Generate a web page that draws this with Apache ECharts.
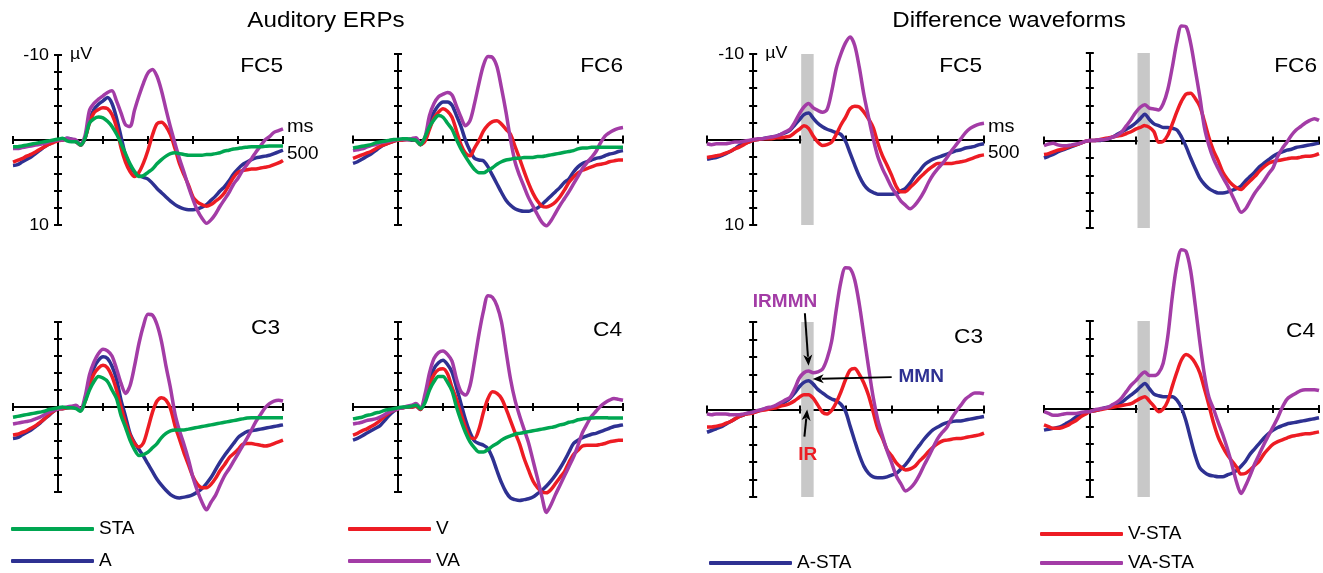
<!DOCTYPE html>
<html>
<head>
<meta charset="utf-8">
<script src="https://cdn.jsdelivr.net/npm/echarts@6/dist/echarts.min.js"></script>
<style>
  html, body { margin: 0; padding: 0; background: #ffffff; }
  #chart { width: 1323px; height: 573px; }
</style>
</head>
<body>
<div id="chart"></div>
<script>
// time axis (ms), one sample every 10 ms
const times = [-100, -90, -80, -70, -60, -50, -40, -30, -20, -10,
  0, 10, 20, 30, 40, 50, 60, 70, 80, 90,
  100, 110, 120, 130, 140, 150, 160, 170, 180, 190,
  200, 210, 220, 230, 240, 250, 260, 270, 280, 290,
  300, 310, 320, 330, 340, 350, 360, 370, 380, 390,
  400, 410, 420, 430, 440, 450, 460, 470, 480, 490,
  500];

// Auditory ERPs (uV), FC5
const audFC5_STA = [0.8, 0.8, 0.7, 0.6, 0.5, 0.4, 0.3, 0.2, 0.1, 0.0,
  -0.1, -0.2, 0.1, 0.2, 0.2, 0.6, -0.2, -2.0, -2.5, -2.7,
  -2.6, -2.2, -1.6, -0.7, 0.4, 1.6, 2.8, 3.7, 4.3, 4.2,
  3.8, 3.4, 2.8, 2.3, 1.9, 1.6, 1.5, 1.6, 1.7, 1.8,
  1.8, 1.8, 1.8, 1.7, 1.7, 1.6, 1.5, 1.3, 1.2, 1.05,
  1.0, 0.9, 0.85, 0.8, 0.8, 0.8, 0.75, 0.7, 0.7, 0.7,
  0.7];
const audFC5_A = [3.0, 2.9, 2.6, 2.3, 2.0, 1.6, 1.2, 0.8, 0.5, 0.2,
  0.0, 0.0, -0.2, -0.1, 0.2, 0.6, -0.2, -2.3, -3.6, -4.2,
  -4.6, -5.0, -4.3, -2.6, -0.4, 1.8, 3.0, 3.8, 4.2, 4.4,
  4.6, 5.1, 5.7, 6.2, 6.7, 7.2, 7.6, 7.9, 8.1, 8.2,
  8.2, 8.1, 7.9, 7.6, 7.1, 6.6, 6.0, 5.5, 4.8, 4.0,
  3.4, 2.9, 2.6, 2.3, 2.1, 2.0, 1.9, 1.8, 1.6, 1.4,
  1.2];
const audFC5_V = [2.6, 2.4, 2.2, 1.9, 1.7, 1.4, 1.1, 0.8, 0.5, 0.3,
  0.1, 0.0, -0.1, 0.0, 0.2, 0.6, -0.2, -2.0, -3.2, -3.6,
  -3.8, -3.7, -3.0, -1.5, 0.9, 2.6, 3.7, 4.3, 3.8, 2.7,
  1.2, -0.6, -1.9, -2.1, -1.6, -0.6, 1.0, 2.8, 4.1, 5.3,
  6.7, 7.3, 7.6, 7.8, 7.6, 7.2, 6.8, 6.2, 5.3, 4.4,
  3.8, 3.6, 3.5, 3.4, 3.4, 3.3, 3.2, 3.1, 2.9, 2.7,
  2.4];
const audFC5_VA = [1.0, 1.0, 0.9, 0.8, 0.7, 0.6, 0.5, 0.4, 0.2, 0.1,
  0.0, 0.0, -0.2, -0.1, 0.0, 0.5, -0.5, -3.5, -4.3, -4.8,
  -5.2, -5.6, -5.8, -4.6, -3.2, -1.8, -1.6, -3.5, -5.2, -6.7,
  -7.9, -8.3, -7.5, -5.8, -3.6, -1.5, 0.4, 2.2, 3.8, 5.5,
  7.0, 8.3, 9.2, 9.8, 9.4, 8.7, 7.8, 7.0, 6.2, 5.2,
  4.5, 3.6, 2.9, 2.2, 1.4, 0.7, 0.0, -0.4, -0.9, -1.1,
  -1.3];

// Auditory ERPs, FC6
const audFC6_STA = [1.0, 0.9, 0.8, 0.7, 0.6, 0.4, 0.3, 0.2, 0.1, 0.0,
  0.0, -0.1, -0.1, 0.0, 0.1, 0.6, -0.3, -1.5, -2.3, -2.8,
  -2.6, -1.9, -1.2, 0.0, 1.1, 2.0, 2.8, 3.5, 3.9, 3.9,
  3.6, 3.3, 2.9, 2.6, 2.4, 2.3, 2.2, 2.2, 2.1, 2.1,
  2.1, 2.0, 2.0, 1.9, 1.8, 1.7, 1.6, 1.5, 1.4, 1.3,
  1.1, 1.0, 1.0, 0.9, 0.9, 0.9, 0.9, 0.9, 0.9, 0.9,
  0.9];
const audFC6_A = [2.8, 2.6, 2.3, 2.0, 1.7, 1.3, 0.9, 0.6, 0.4, 0.2,
  0.0, 0.0, 0.0, 0.1, 0.1, 0.6, 0.0, -2.0, -3.2, -4.0,
  -4.4, -4.4, -4.0, -2.8, -1.5, 0.1, 1.3, 2.2, 2.4, 2.5,
  3.2, 4.2, 5.2, 6.2, 7.1, 7.7, 8.1, 8.3, 8.4, 8.4,
  8.2, 8.0, 7.6, 7.1, 6.6, 6.1, 5.6, 5.0, 4.6, 3.8,
  3.2, 2.8, 2.6, 2.4, 2.2, 2.1, 1.9, 1.7, 1.6, 1.4,
  1.3];
const audFC6_V = [2.2, 2.0, 1.8, 1.6, 1.4, 1.1, 0.8, 0.6, 0.4, 0.2,
  0.1, 0.1, 0.0, 0.0, 0.1, 0.6, 0.2, -1.2, -2.5, -3.2,
  -3.6, -3.3, -2.6, -1.0, 0.6, 1.6, 1.9, 1.0, 0.1, -1.0,
  -1.7, -2.1, -2.2, -1.8, -1.2, -0.6, 0.8, 2.2, 3.7, 5.1,
  6.3, 7.2, 7.8, 7.9, 7.7, 7.3, 6.7, 5.9, 5.0, 4.4,
  3.9, 3.6, 3.4, 3.2, 3.0, 2.9, 2.8, 2.6, 2.5, 2.4,
  2.4];
const audFC6_VA = [1.3, 1.2, 1.1, 0.9, 0.7, 0.6, 0.4, 0.3, 0.2, 0.1,
  0.0, 0.0, 0.0, -0.1, -0.2, 0.5, -0.3, -2.8, -4.2, -5.0,
  -5.3, -5.5, -5.2, -3.9, -2.6, -1.6, -2.2, -4.2, -6.6, -8.7,
  -9.7, -9.6, -8.5, -6.0, -3.2, 0.0, 2.6, 4.2, 5.5, 6.8,
  7.8, 8.8, 9.7, 10.1, 9.5, 8.6, 7.7, 6.9, 6.1, 5.2,
  4.3, 3.4, 2.7, 2.1, 1.4, 0.4, -0.4, -0.8, -1.1, -1.3,
  -1.4];

// Auditory ERPs, C3
const audC3_STA = [1.2, 1.1, 1.0, 0.9, 0.8, 0.7, 0.6, 0.5, 0.3, 0.2,
  0.1, 0.0, 0.1, 0.1, 0.2, 0.5, -0.6, -2.0, -3.0, -3.6,
  -3.4, -3.0, -2.0, -1.0, 1.0, 2.4, 3.9, 5.0, 5.7, 5.6,
  5.3, 4.8, 4.3, 3.6, 3.1, 2.8, 2.7, 2.7, 2.7, 2.6,
  2.5, 2.4, 2.3, 2.2, 2.1, 2.0, 1.9, 1.8, 1.7, 1.6,
  1.5, 1.4, 1.3, 1.25, 1.25, 1.25, 1.25, 1.25, 1.25, 1.25,
  1.25];
const audC3_A = [3.7, 3.6, 3.3, 3.0, 2.7, 2.3, 1.9, 1.4, 1.0, 0.5,
  0.2, 0.2, 0.1, 0.0, 0.1, 0.4, -0.8, -3.0, -4.6, -5.5,
  -5.9, -5.7, -4.8, -3.3, -0.8, 1.1, 3.1, 4.2, 5.0, 5.8,
  6.7, 7.6, 8.5, 9.2, 9.8, 10.3, 10.6, 10.7, 10.6, 10.5,
  10.3, 10.0, 9.6, 9.0, 8.3, 7.4, 6.5, 5.7, 5.0, 4.3,
  3.6, 3.2, 2.9, 2.8, 2.7, 2.6, 2.5, 2.4, 2.3, 2.2,
  2.1];
const audC3_V = [3.3, 3.2, 3.0, 2.8, 2.5, 2.2, 1.8, 1.4, 0.9, 0.5,
  0.2, 0.2, 0.1, 0.1, 0.1, 0.4, -0.6, -2.6, -3.9, -4.6,
  -4.9, -4.6, -3.6, -2.0, 0.0, 1.8, 3.3, 4.3, 4.7, 4.2,
  2.5, 0.6, -0.7, -1.1, -0.8, 0.2, 2.2, 3.8, 5.4, 6.8,
  8.2, 9.1, 9.5, 9.5, 9.1, 8.4, 7.5, 6.8, 6.0, 5.5,
  5.0, 4.4, 4.3, 4.3, 4.4, 4.5, 4.6, 4.5, 4.3, 4.1,
  3.9];
const audC3_VA = [2.0, 1.9, 1.8, 1.7, 1.6, 1.4, 1.2, 0.9, 0.6, 0.4,
  0.2, 0.1, 0.0, -0.1, -0.2, 0.3, -1.2, -3.8, -5.3, -6.3,
  -6.8, -6.6, -6.0, -4.5, -2.8, -1.6, -2.5, -4.8, -7.5, -9.6,
  -10.9, -10.8, -9.7, -7.7, -4.8, -2.2, 0.8, 2.8, 4.4, 6.2,
  8.3, 9.9, 11.2, 12.1, 11.2, 10.4, 9.2, 8.1, 7.3, 6.4,
  5.5, 4.6, 3.7, 2.7, 1.7, 0.9, 0.1, -0.4, -0.7, -0.8,
  -0.7];

// Auditory ERPs, C4
const audC4_STA = [1.4, 1.3, 1.2, 1.0, 0.9, 0.7, 0.6, 0.4, 0.3, 0.2,
  0.1, 0.0, 0.0, -0.1, -0.2, 0.2, -0.5, -2.0, -3.0, -3.6,
  -3.6, -2.9, -1.9, 0.0, 1.6, 3.0, 4.1, 4.8, 5.3, 5.3,
  5.0, 4.6, 4.3, 3.9, 3.6, 3.4, 3.2, 3.1, 3.0, 2.9,
  2.8, 2.7, 2.6, 2.5, 2.4, 2.3, 2.1, 2.0, 1.8, 1.7,
  1.5, 1.4, 1.35, 1.3, 1.25, 1.25, 1.25, 1.3, 1.3, 1.3,
  1.3];
const audC4_A = [3.9, 3.7, 3.4, 3.1, 2.8, 2.5, 2.2, 1.6, 1.0, 0.5,
  0.2, 0.1, 0.0, 0.0, -0.1, 0.3, -1.0, -3.0, -4.5, -5.2,
  -5.5, -5.0, -4.1, -2.3, -0.4, 1.5, 3.0, 4.0, 4.3, 4.5,
  4.9, 6.0, 7.5, 8.9, 10.0, 10.7, 10.9, 11.0, 10.9, 10.8,
  10.6, 10.2, 9.8, 9.3, 8.7, 8.0, 7.2, 6.3, 5.3, 4.3,
  3.9, 3.6, 3.4, 3.2, 3.1, 2.9, 2.7, 2.5, 2.3, 2.2,
  2.1];
const audC4_V = [3.3, 3.1, 2.8, 2.6, 2.3, 2.0, 1.6, 1.1, 0.7, 0.4,
  0.2, 0.1, 0.0, 0.0, -0.1, 0.3, -0.8, -2.6, -3.8, -4.4,
  -4.5, -3.9, -2.3, -0.9, 0.8, 2.4, 3.6, 3.7, 2.6, 0.6,
  -1.0, -1.8, -1.6, -1.0, 0.2, 1.6, 3.0, 4.3, 6.0, 7.4,
  8.7, 9.5, 10.0, 10.1, 9.7, 9.0, 8.3, 7.6, 6.5, 5.6,
  5.1, 4.6, 4.5, 4.5, 4.5, 4.4, 4.3, 4.1, 4.0, 3.9,
  3.9];
const audC4_VA = [2.0, 1.9, 1.8, 1.6, 1.5, 1.4, 1.2, 0.9, 0.6, 0.4,
  0.2, 0.1, -0.1, -0.2, -0.4, 0.1, -1.5, -4.0, -5.7, -6.4,
  -6.6, -6.2, -5.4, -3.3, -1.8, -1.4, -2.5, -5.4, -8.6, -11.3,
  -13.1, -12.9, -11.9, -10.0, -6.6, -3.3, -0.8, 1.0, 2.6, 4.2,
  6.3, 8.4, 10.6, 12.4, 11.5, 10.3, 9.2, 8.1, 7.0, 5.9,
  4.5, 3.0, 2.0, 1.1, 0.5, -0.1, -0.5, -0.8, -1.0, -0.9,
  -0.8];

// Difference waveforms, FC5
const diffFC5_A = [2.3, 2.2, 2.1, 1.9, 1.7, 1.4, 1.1, 0.7, 0.5, 0.3,
  0.1, 0.0, -0.1, -0.2, -0.3, -0.4, -0.6, -0.8, -1.1, -1.7,
  -2.3, -2.9, -3.1, -2.5, -1.9, -1.5, -1.2, -1.0, -0.8, -0.6,
  0.2, 1.6, 3.0, 4.3, 5.3, 5.9, 6.2, 6.4, 6.4, 6.4,
  6.4, 6.3, 6.0, 5.7, 5.1, 4.3, 3.7, 3.0, 2.6, 2.3,
  2.1, 1.9, 1.7, 1.5, 1.3, 1.2, 1.0, 0.9, 0.8, 0.6,
  0.5];
const diffFC5_V = [2.1, 2.0, 1.9, 1.8, 1.6, 1.4, 1.1, 0.9, 0.6, 0.3,
  0.1, 0.0, -0.1, -0.1, -0.1, -0.2, -0.2, -0.3, -0.4, -0.8,
  -1.2, -1.6, -1.3, -0.4, 0.3, 0.7, 0.6, 0.3, -0.6, -1.7,
  -2.6, -3.6, -3.9, -3.8, -3.2, -2.4, -1.4, 0.4, 1.9, 3.0,
  4.2, 5.5, 6.1, 6.1, 5.6, 5.1, 4.5, 4.0, 3.5, 3.1,
  2.8, 2.8, 2.8, 2.8, 2.7, 2.6, 2.5, 2.3, 2.1, 1.9,
  1.8];
const diffFC5_VA = [0.5, 0.6, 0.5, 0.5, 0.5, 0.4, 0.3, 0.3, 0.2, 0.1,
  0.0, -0.1, -0.1, -0.2, -0.3, -0.4, -0.6, -0.9, -1.2, -2.0,
  -3.0, -3.8, -4.2, -3.7, -3.4, -3.2, -3.5, -5.6, -8.3, -10.0,
  -11.3, -12.0, -11.0, -8.4, -5.2, -2.6, -0.1, 2.0, 3.4, 4.5,
  5.6, 6.4, 7.2, 7.7, 8.1, 7.7, 7.0, 6.1, 5.0, 4.1,
  3.4, 2.8, 2.1, 1.3, 0.6, -0.1, -0.8, -1.3, -1.6, -1.8,
  -1.9];

// Difference waveforms, FC6
const diffFC6_A = [2.0, 1.8, 1.6, 1.3, 1.1, 0.9, 0.7, 0.5, 0.3, 0.1,
  0.0, 0.0, 0.0, -0.1, -0.2, -0.4, -0.7, -1.0, -1.3, -1.6,
  -2.0, -2.5, -3.0, -2.4, -1.9, -1.7, -1.5, -1.5, -1.4, -1.2,
  -0.4, 0.7, 2.0, 3.2, 4.3, 5.0, 5.5, 5.8, 6.0, 6.0,
  5.9, 5.7, 5.5, 5.2, 4.6, 4.1, 3.6, 3.0, 2.6, 2.2,
  1.8, 1.5, 1.3, 1.1, 1.0, 0.8, 0.7, 0.6, 0.5, 0.4,
  0.3];
const diffFC6_V = [1.6, 1.5, 1.3, 1.1, 1.0, 0.8, 0.6, 0.5, 0.3, 0.1,
  0.0, 0.0, -0.1, -0.2, -0.3, -0.4, -0.5, -0.6, -0.8, -1.0,
  -1.3, -1.5, -1.7, -1.5, -1.0, 0.2, 0.1, -0.6, -1.9, -3.3,
  -4.5, -5.3, -5.4, -4.8, -3.9, -2.2, -0.3, 1.2, 2.3, 3.6,
  4.4, 5.0, 5.4, 5.6, 5.1, 4.6, 4.1, 3.5, 3.0, 2.6,
  2.4, 2.3, 2.2, 2.1, 2.0, 2.0, 1.9, 1.8, 1.8, 1.7,
  1.5];
const diffFC6_VA = [0.6, 0.4, 0.3, 0.5, 0.6, 0.6, 0.5, 0.4, 0.3, 0.1,
  0.0, 0.0, -0.1, -0.1, -0.2, -0.4, -0.6, -1.0, -1.7, -2.4,
  -3.2, -3.8, -4.1, -3.7, -3.6, -3.5, -4.2, -5.8, -8.4, -11.3,
  -13.1, -13.0, -11.1, -8.1, -5.0, -1.5, 0.6, 2.1, 3.2, 4.2,
  5.1, 6.2, 7.3, 8.2, 7.8, 6.9, 6.0, 5.3, 4.6, 3.8,
  3.1, 1.8, 0.9, 0.2, -0.6, -1.2, -1.6, -2.0, -2.3, -2.5,
  -2.3];

// Difference waveforms, C3
const diffC3_A = [2.6, 2.4, 2.2, 2.0, 1.7, 1.4, 1.1, 0.8, 0.6, 0.4,
  0.3, 0.2, 0.0, -0.1, -0.2, -0.4, -0.6, -0.9, -1.3, -1.9,
  -2.6, -3.1, -3.3, -2.9, -2.3, -1.9, -1.5, -1.2, -1.0, -0.6,
  0.2, 1.9, 3.6, 5.2, 6.5, 7.3, 7.7, 7.8, 7.8, 7.7,
  7.5, 7.3, 6.8, 6.3, 5.6, 4.8, 4.1, 3.4, 2.8, 2.3,
  2.0, 1.7, 1.5, 1.4, 1.3, 1.3, 1.2, 1.1, 1.0, 0.9,
  0.8];
const diffC3_V = [2.0, 2.0, 1.9, 1.8, 1.6, 1.4, 1.1, 0.8, 0.6, 0.5,
  0.4, 0.2, 0.1, 0.0, -0.1, -0.2, -0.4, -0.5, -0.7, -1.0,
  -1.4, -1.7, -1.7, -1.3, -0.5, 0.3, 0.5, 0.1, -0.8, -2.0,
  -3.4, -4.5, -4.7, -4.0, -3.0, -1.6, 0.3, 2.2, 3.3, 4.6,
  5.3, 6.1, 6.6, 6.9, 6.8, 6.5, 5.9, 5.4, 4.8, 4.3,
  3.9, 3.6, 3.5, 3.4, 3.3, 3.3, 3.2, 3.1, 3.0, 2.9,
  2.7];
const diffC3_VA = [0.5, 0.6, 0.5, 0.5, 0.5, 0.6, 0.6, 0.6, 0.5, 0.4,
  0.3, 0.1, 0.0, -0.2, -0.3, -0.5, -0.8, -1.1, -1.4, -2.4,
  -3.6, -4.2, -4.4, -4.2, -4.3, -4.6, -5.8, -7.8, -11.4, -14.6,
  -16.2, -16.1, -14.8, -12.0, -8.4, -4.8, -1.4, 1.2, 3.0, 4.7,
  6.1, 7.6, 8.5, 9.3, 9.0, 8.4, 7.5, 6.4, 5.4, 4.3,
  3.3, 2.6, 2.0, 1.0, 0.2, -0.5, -1.2, -1.6, -1.9, -1.9,
  -1.8];

// Difference waveforms, C4
const diffC4_A = [2.4, 2.3, 2.2, 2.1, 1.9, 1.6, 1.3, 0.9, 0.6, 0.4,
  0.3, 0.2, 0.1, -0.1, -0.2, -0.3, -0.5, -0.8, -1.2, -1.6,
  -2.0, -2.5, -2.9, -2.3, -1.7, -1.5, -1.4, -1.4, -1.4, -1.0,
  -0.1, 1.4, 3.4, 5.3, 6.7, 7.2, 7.5, 7.6, 7.7, 7.7,
  7.5, 7.3, 7.0, 6.5, 5.9, 5.1, 4.5, 3.9, 3.3, 2.8,
  2.4, 2.1, 1.9, 1.7, 1.6, 1.5, 1.4, 1.3, 1.2, 1.1,
  1.0];
const diffC4_V = [1.8, 2.0, 2.2, 2.2, 2.1, 1.9, 1.6, 1.3, 0.9, 0.6,
  0.3, 0.2, 0.1, 0.0, -0.1, -0.2, -0.3, -0.4, -0.5, -0.6,
  -0.9, -1.2, -1.4, -0.9, -0.3, 0.3, 0.0, -0.9, -2.6, -4.2,
  -5.6, -6.2, -5.9, -5.2, -4.1, -2.3, -0.4, 1.6, 3.2, 4.3,
  5.2, 5.9, 6.6, 7.4, 7.3, 6.9, 6.4, 5.9, 5.1, 4.5,
  4.0, 3.7, 3.5, 3.3, 3.1, 3.0, 2.9, 2.8, 2.8, 2.7,
  2.6];
const diffC4_VA = [0.3, 0.5, 0.7, 0.7, 0.6, 0.5, 0.5, 0.5, 0.4, 0.3,
  0.3, 0.1, 0.0, -0.1, -0.2, -0.5, -0.8, -1.3, -2.0, -2.7,
  -3.2, -3.8, -4.2, -3.8, -3.8, -4.1, -5.2, -8.2, -12.8, -16.4,
  -18.1, -17.9, -15.7, -11.8, -7.6, -3.9, -1.3, 0.0, 1.5, 2.9,
  4.5, 6.3, 8.3, 9.6, 8.7, 7.5, 6.2, 5.1, 4.0, 3.0,
  2.0, 1.0, -0.2, -1.1, -1.5, -1.8, -2.1, -2.2, -2.2, -2.2,
  -2.1];

// shaded analysis window (ms) and its vertical extent (uV)
const bandMs = [104, 131];
const bandUv = [-10.3, 10.1];

// arrows in the C3 difference panel: [from, to] as [ms, uV]
const arrowIRMMN = [[112, -11.0], [120, -5.0]];
const arrowMMN = [[300, -3.7], [129, -3.5]];
const arrowIR = [[111, 3.1], [117, 0.0]];

const FONT = '"Liberation Sans", Arial, Helvetica, sans-serif';
const COLORS = {
  STA: '#00a651', A: '#2e3192', V: '#ed1c24', VA: '#a33ca6',
  'A-STA': '#2e3192', 'V-STA': '#ed1c24', 'VA-STA': '#a33ca6'
};

const panels = [
  { box: [13, 55, 270, 170], label: 'FC5', labelAt: [283, 66], scale: true, band: false,
    lines: [['A', audFC5_A], ['V', audFC5_V], ['VA', audFC5_VA], ['STA', audFC5_STA]] },
  { box: [353, 54, 270, 171], label: 'FC6', labelAt: [623, 66], scale: false, band: false,
    lines: [['A', audFC6_A], ['V', audFC6_V], ['VA', audFC6_VA], ['STA', audFC6_STA]] },
  { box: [707, 54, 277, 171], label: 'FC5', labelAt: [982, 66], scale: true, band: true,
    lines: [['A-STA', diffFC5_A], ['V-STA', diffFC5_V], ['VA-STA', diffFC5_VA]] },
  { box: [1044, 53, 275, 175], label: 'FC6', labelAt: [1317, 66], scale: false, band: true,
    lines: [['A-STA', diffFC6_A], ['V-STA', diffFC6_V], ['VA-STA', diffFC6_VA]] },
  { box: [13, 322, 270, 170], label: 'C3', labelAt: [280, 328], scale: false, band: false,
    lines: [['A', audC3_A], ['V', audC3_V], ['VA', audC3_VA], ['STA', audC3_STA]] },
  { box: [353, 322, 270, 170], label: 'C4', labelAt: [622, 330], scale: false, band: false,
    lines: [['A', audC4_A], ['V', audC4_V], ['VA', audC4_VA], ['STA', audC4_STA]] },
  { box: [707, 322, 277, 175], label: 'C3', labelAt: [983, 337], scale: false, band: true,
    lines: [['A-STA', diffC3_A], ['V-STA', diffC3_V], ['VA-STA', diffC3_VA]] },
  { box: [1044, 321, 275, 176], label: 'C4', labelAt: [1315, 331], scale: false, band: true,
    lines: [['A-STA', diffC4_A], ['V-STA', diffC4_V], ['VA-STA', diffC4_VA]] }
];

const axisLineStyle = { color: '#000', width: 2 };
const grids = [], xAxes = [], yAxes = [], series = [];

panels.forEach((p, g) => {
  grids.push({ left: p.box[0], top: p.box[1], width: p.box[2], height: p.box[3], outerBoundsMode: 'none' });
  // main x axis (ticks down) + mirror (ticks up), both sitting on y = 0
  xAxes.push({
    gridIndex: g, type: 'value', min: -100, max: 500, interval: 100, position: 'bottom',
    axisLine: { onZero: true, lineStyle: axisLineStyle },
    axisTick: { length: 4, lineStyle: axisLineStyle },
    axisLabel: { show: false }, splitLine: { show: false }
  });
  xAxes.push({
    gridIndex: g, type: 'value', min: -100, max: 500, interval: 100, position: 'top',
    axisLine: { show: false, onZero: true },
    axisTick: { length: 4, lineStyle: axisLineStyle },
    axisLabel: { show: false }, splitLine: { show: false }
  });
  yAxes.push({
    gridIndex: g, type: 'value', min: -10, max: 10, interval: 2, inverse: true, position: 'left',
    axisLine: { onZero: true, lineStyle: axisLineStyle },
    axisTick: { length: 4, lineStyle: axisLineStyle },
    axisLabel: { show: false }, splitLine: { show: false }
  });
  yAxes.push({
    gridIndex: g, type: 'value', min: -10, max: 10, interval: 2, inverse: true, position: 'right',
    axisLine: { show: false, onZero: true },
    axisTick: { length: 4, lineStyle: axisLineStyle },
    axisLabel: { show: false }, splitLine: { show: false }
  });

  p.lines.forEach(([name, vals], k) => {
    const s = {
      type: 'line', name, xAxisIndex: 2 * g, yAxisIndex: 2 * g,
      data: times.map((t, i) => [t, vals[i]]),
      symbol: 'none', showSymbol: false, smooth: 0.3, clip: false, silent: true,
      lineStyle: { color: COLORS[name], width: 3.5 },
      itemStyle: { color: COLORS[name] },
      z: 3 + k
    };
    if (p.band && k === 0) {
      s.markArea = {
        silent: true, z: 1,
        itemStyle: { color: '#c8c8c8' },
        data: [[{ xAxis: bandMs[0], yAxis: bandUv[0] }, { xAxis: bandMs[1], yAxis: bandUv[1] }]]
      };
    }
    series.push(s);
  });
});

const legendBase = {
  orient: 'vertical', icon: 'roundRect', itemWidth: 83, itemHeight: 4,
  padding: 0, selectedMode: false,
  textStyle: { fontSize: 19, color: '#000', fontFamily: FONT, lineHeight: 20 }
};

const chart = echarts.init(document.getElementById('chart'));
chart.setOption({
  animation: false,
  grid: grids,
  xAxis: xAxes,
  yAxis: yAxes,
  series: series,
  legend: [
    Object.assign({}, legendBase, { data: ['STA', 'A'], left: 11, top: 519, itemGap: 12 }),
    Object.assign({}, legendBase, { data: ['V', 'VA'], left: 348, top: 519, itemGap: 12 }),
    Object.assign({}, legendBase, { data: ['A-STA'], left: 709, top: 553 }),
    Object.assign({}, legendBase, { data: ['V-STA', 'VA-STA'], left: 1040, top: 524, itemGap: 9 })
  ]
});

// texts and arrows placed from the axis scales
const px = (g, x, y) => chart.convertToPixel({ xAxisIndex: 2 * g, yAxisIndex: 2 * g }, [x, y]);
const txt = (x, y, text, font, fill, align, sx) => ({
  type: 'text', x, y, z: 100, silent: true, scaleX: sx || 1,
  style: { text, font, fill: fill || '#000', align: align || 'left', verticalAlign: 'middle',
           textAlign: align || 'left', textVerticalAlign: 'middle' }
});
const arrow = (g, a) => {
  const p0 = px(g, a[0][0], a[0][1]);
  const p1 = px(g, a[1][0], a[1][1]);
  const dx = p1[0] - p0[0], dy = p1[1] - p0[1];
  const len = Math.sqrt(dx * dx + dy * dy);
  const ux = dx / len, uy = dy / len;
  const head = 11, half = 4.5;
  const bx = p1[0] - ux * head, by = p1[1] - uy * head;
  return [
    { type: 'line', z: 100, silent: true,
      shape: { x1: p0[0], y1: p0[1], x2: bx + ux * 2, y2: by + uy * 2 },
      style: { stroke: '#000', lineWidth: 2 } },
    { type: 'polygon', z: 100, silent: true,
      shape: { points: [[p1[0], p1[1]], [bx - uy * half, by + ux * half], [bx + ux * 3, by + uy * 3], [bx + uy * half, by - ux * half]] },
      style: { fill: '#000' } }
  ];
};

const graphics = [
  txt(326, 21, 'Auditory ERPs', `22px ${FONT}`, '#000', 'center', 1.1),
  txt(1009, 21, 'Difference waveforms', `22px ${FONT}`, '#000', 'center', 1.1)
];
panels.forEach((p, g) => {
  graphics.push(txt(p.labelAt[0], p.labelAt[1], p.label, `21px ${FONT}`, '#000', 'right', 1.08));
  if (p.scale) {
    const top = px(g, 0, -10);
    const bottom = px(g, 0, 10);
    const end = px(g, 500, 0);
    graphics.push(txt(top[0] - 9, top[1], '-10', `17px ${FONT}`, '#000', 'right', 1.05));
    graphics.push(txt(bottom[0] - 9, bottom[1], '10', `17px ${FONT}`, '#000', 'right', 1.05));
    graphics.push(txt(top[0] + 12, top[1] - 1, 'µV', `17px ${FONT}`, '#000', 'left', 1.05));
    graphics.push(txt(end[0] + 4, end[1] - 13, 'ms', `19px ${FONT}`, '#000', 'left', 1.05));
    graphics.push(txt(end[0] + 4, end[1] + 14, '500', `18px ${FONT}`, '#000', 'left', 1.05));
  }
});
const a1 = px(6, 69, -12.3), a2 = px(6, 364, -3.7), a3 = px(6, 118, 5.2);
graphics.push(txt(a1[0], a1[1], 'IRMMN', `bold 19px ${FONT}`, COLORS.VA, 'center'));
graphics.push(txt(a2[0], a2[1], 'MMN', `bold 19px ${FONT}`, COLORS.A, 'center'));
graphics.push(txt(a3[0], a3[1], 'IR', `bold 19px ${FONT}`, COLORS.V, 'center'));
[arrowIRMMN, arrowMMN, arrowIR].forEach(a => arrow(6, a).forEach(el => graphics.push(el)));

chart.setOption({ graphic: graphics });
</script>
</body>
</html>
